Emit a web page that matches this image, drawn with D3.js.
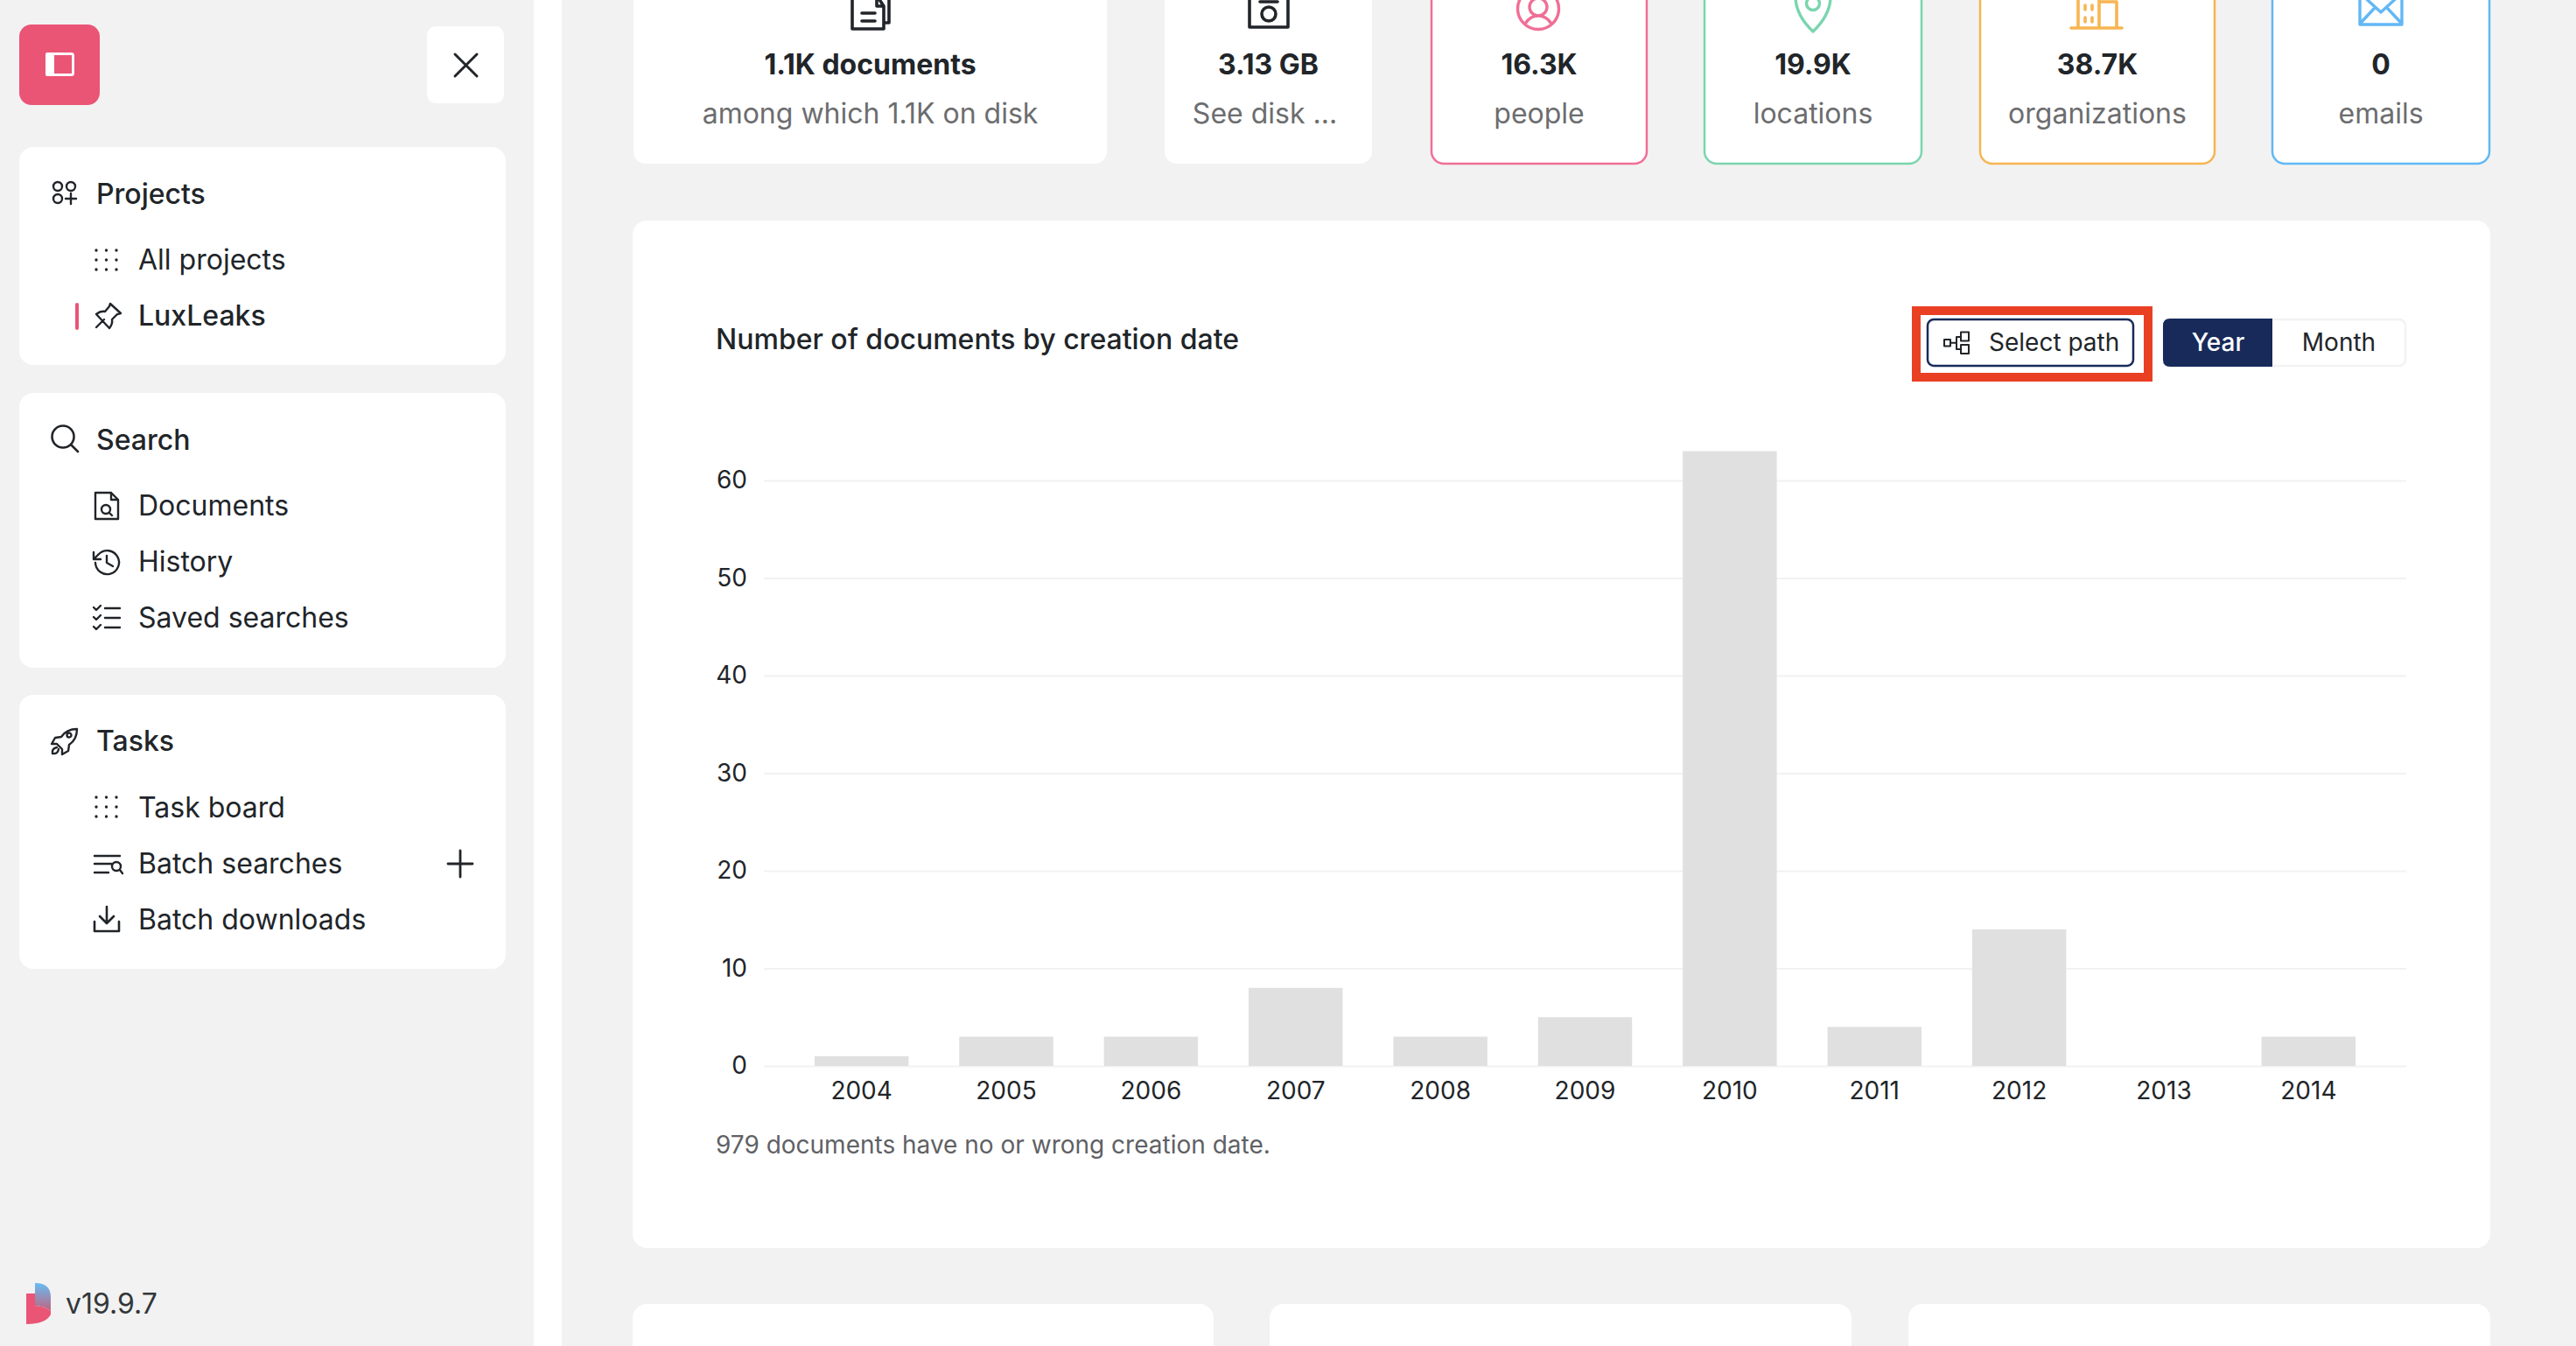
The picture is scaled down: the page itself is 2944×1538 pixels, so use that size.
<!DOCTYPE html>
<html lang="en">
<head>
<meta charset="UTF-8">
<title>Number of documents by creation date</title>
<script src="https://d3js.org/d3.v7.min.js"></script>
<style>
    html, body { margin: 0; padding: 0; background: #fff; overflow: hidden; }
    svg { display: block; font-family: Inter, "Noto Sans", sans-serif; }
    .icon { fill: none; stroke-linecap: round; stroke-linejoin: round; }
</style>
</head>
<body>
<svg id="page" width="2944" height="1538"></svg>
<script>
// chart values
const years = ["2004", "2005", "2006", "2007", "2008", "2009", "2010", "2011", "2012", "2013", "2014"];
const docCounts = [1, 3, 3, 8, 3, 5, 63, 4, 14, 0, 3];
const yTicks = [0, 10, 20, 30, 40, 50, 60];

// page texts
const chartTitle = "Number of documents by creation date";
const chartNote = "979 documents have no or wrong creation date.";
const statValues = ["1.1K documents", "3.13 GB", "16.3K", "19.9K", "38.7K", "0"];
const statLabels = ["among which 1.1K on disk", "See disk ...", "people", "locations", "organizations", "emails"];
const navHeadings = ["Projects", "Search", "Tasks"];
const navItems = ["All projects", "LuxLeaks", "Documents", "History", "Saved searches", "Task board", "Batch searches", "Batch downloads"];

const ink = "#212529", grey = "#6c6d6f", pageBg = "#f2f2f2";
const pink = "#ea5475", navy = "#172a5a", red = "#e94024";
const peopleColor = "#ef6f96", placeColor = "#7bd5ae", orgColor = "#f7b552", mailColor = "#62b8f5";

const svg = d3.select("#page");

function box(x, y, w, h, r, fill, stroke, sw) {
    return svg.append("rect").attr("x", x).attr("y", y).attr("width", w).attr("height", h)
        .attr("rx", r).attr("fill", fill).attr("stroke", stroke || "none").attr("stroke-width", sw || 0);
}

function label(txt, x, y, size, weight, color, anchor) {
    return svg.append("text").attr("x", x).attr("y", y).attr("font-size", size)
        .attr("font-weight", weight).attr("fill", color).attr("text-anchor", anchor || "start").text(txt);
}

// line icon, path drawn around the x,y origin
function icon(d, x, y, color, sw) {
    return svg.append("path").attr("class", "icon").attr("d", d)
        .attr("transform", `translate(${x},${y})`)
        .attr("stroke", color || ink).attr("stroke-width", sw || 2.6);
}

// backgrounds
box(0, 0, 2944, 1538, 0, "#fff");
box(0, 0, 610, 1538, 0, pageBg);
box(642, 0, 2302, 1538, 0, pageBg);

// ---- sidebar ----
box(22, 28, 92, 92, 14, pink);
box(53.5, 61.5, 30, 24, 2, "none", "#fff", 3);
box(52, 60, 10, 27, 2, "#fff");
box(488, 30, 88, 88, 10, "#fff");
icon("M1 1 L26 26 M26 1 L1 26", 519, 61, ink, 3);

box(22, 168, 556, 249, 16, "#fff");
box(22, 449, 556, 314, 16, "#fff");
box(22, 794, 556, 313, 16, "#fff");

const headingY = [233, 514, 858];
navHeadings.forEach((h, i) => label(h, 110, headingY[i], 32, 500, ink));
const itemY = [308, 372, 589, 653, 717, 934, 998, 1062];
navItems.forEach((t, i) => label(t, 158, itemY[i], 32, t === "LuxLeaks" ? 500 : 400, ink));
box(86, 346, 4, 31, 2, pink);

const dotsPath = d3.cross([0, 11.5, 23], [0, 11, 22]).map(([a, b]) => `M${a} ${b} h0.01`).join(" ");
icon("M6 6 m-5 0 a5 5 0 1 0 10 0 a5 5 0 1 0 -10 0 M21 6 m-5 0 a5 5 0 1 0 10 0 a5 5 0 1 0 -10 0 M6 20 m-5 0 a5 5 0 1 0 10 0 a5 5 0 1 0 -10 0 M21 14 V26 M15 20 H27", 60, 207, ink, 2.4);
icon(dotsPath, 110, 286, ink, 3.4);
icon("M3 30 L12 21 M19 3 L31 14 L27 15 L21 21 Q22 26 18 31 L3 15 Q8 11 13 12 L18 6 Z", 107, 344, ink, 2.4);
icon("M14 14 m-12.5 0 a12.5 12.5 0 1 0 25 0 a12.5 12.5 0 1 0 -25 0 M23 23 L31 31", 58, 485, ink, 2.6);
icon("M1 1 H19 L27 9 V31 H1 Z M19 1 V9 H27 M13 20 m-5 0 a5 5 0 1 0 10 0 a5 5 0 1 0 -10 0 M17 24 L20 27", 108, 562, ink, 2.4);
icon("M3 16 A13.5 13.5 0 1 0 7 6 L1 12 M1 4 V12 H9 M16 8 V16 L23 20", 106, 627, ink, 2.4);
icon("M1 3 L4 6 L9 1 M1 14 L4 17 L9 12 M1 25 L4 28 L9 23 M14 4 H31 M14 15 H31 M14 26 H31", 106, 691, ink, 2.4);
icon("M30 2 Q18 2 12 11 L5 12 L1 19 L7 19 L13 25 L13 31 L20 27 L21 20 Q30 14 30 2 Z M7 23 Q1 24 2 30 Q8 31 9 25 M21 9 m-2.5 0 a2.5 2.5 0 1 0 5 0 a2.5 2.5 0 1 0 -5 0", 58, 831, ink, 2.4);
icon(dotsPath, 110, 911, ink, 3.4);
icon("M1 1 H30 M1 10 H20 M1 20 H17 M26 13 m-5 0 a5 5 0 1 0 10 0 a5 5 0 1 0 -10 0 M30 17 L33 21", 107, 977, ink, 2.4);
icon("M14 0 V30 M0 15 H28", 512, 972, ink, 2.8);
icon("M15 1 V19 M7 12 L15 20 L23 12 M1 18 V29 H29 V18", 107, 1035, ink, 2.6);

// logo
const logoGrad = svg.append("defs").append("linearGradient").attr("id", "logoGrad")
    .attr("x1", 0).attr("y1", 0).attr("x2", 0).attr("y2", 1);
logoGrad.append("stop").attr("offset", "0.05").attr("stop-color", "#6bb8ee");
logoGrad.append("stop").attr("offset", "1").attr("stop-color", "#c0647f");
svg.append("path").attr("d", "M30 1478 H40 V1492 Q50 1492 58 1498 V1502 Q52 1513 30 1513 Z").attr("fill", pink);
svg.append("path").attr("d", "M40 1466 Q58 1466 58 1482 V1498 Q50 1492 40 1492 Z").attr("fill", "url(#logoGrad)");
label("v19.9.7", 75, 1501, 32, 400, "#33373b");

// ---- stat cards ----
const statX = [[723, 1266], [1330, 1569], [1635, 1883], [1947, 2197], [2262, 2532], [2596, 2846]];
const statBorder = [null, null, peopleColor, placeColor, orgColor, mailColor];
statX.forEach(([x0, x1], i) => {
    box(x0 + 1, -40, x1 - x0 - 2, 227, 14, "#fff", statBorder[i], statBorder[i] ? 2.5 : 0);
    const cx = (x0 + x1) / 2;
    label(statValues[i], cx, 85, 32, 700, ink, "middle");
    label(statLabels[i], cx - (i === 1 ? 4 : 0), 141, 32, 400, grey, "middle");
});

// cropped icons along the top edge
icon("M0 -5 H28 L36 7 V33 H0 Z M11 15 H26 M11 24 H26 M28 -5 V7 H36 M42 -5 V26 H37", 974, 0, ink, 3.6);
icon("M-22 -8 H22 V31 H-22 Z M-10 2 H10 M0 16 m-8 0 a8 8 0 1 0 16 0 a8 8 0 1 0 -16 0", 1450, 0, ink, 3.6);
icon("M0 10 m-23.5 0 a23.5 23.5 0 1 0 47 0 a23.5 23.5 0 1 0 -47 0 M0 8 m-10 0 a10 10 0 1 0 20 0 a10 10 0 1 0 -20 0 M-15 27 Q-9 18 0 18 Q9 18 15 27", 1758, 0, peopleColor, 3.4);
icon("M-20 -4 Q-20 17 0 36 Q20 17 20 -4 M0 4 m-7.5 0 a7.5 7.5 0 1 0 15 0 a7.5 7.5 0 1 0 -15 0", 2072, 0, placeColor, 3.4);
icon("M0 32 H58 M8 32 V-5 M32 32 V-5 M8 -2 H32 M32 2 H52 V32 M16 6 V11 M24 6 V11 M16 20 V25 M24 20 V25", 2367, 0, orgColor, 3.6);
icon("M-24 -8 H24 V28 H-24 Z M-24 -8 L0 14 L24 -8 M-23 26 L-8 10 M23 26 L8 10", 2721, 0, mailColor, 3.4);

// ---- chart card ----
box(723, 252, 2123, 1174, 16, "#fff");
label(chartTitle, 818, 399, 32, 500, ink);

// select path button with the red highlight around it
box(2190, 355, 265, 76, 0, "#fff", red, 10);
box(2203, 365, 235, 53, 7, "#fff", navy, 2.5);
icon("M2222 388 h7 v7.5 h-7 Z M2229 391.7 H2236 M2236 385 V399 M2236 385 H2241 M2236 399 H2241 M2241 379.5 h9 v10 h-9 Z M2241 394 h9 v10 h-9 Z", 0, 0, ink, 2);
label("Select path", 2273, 401, 28, 400, ink);

// year / month switch
box(2473, 365, 276, 53, 7, "#fff", pageBg, 2.5);
svg.append("path").attr("d", "M2597 364 H2480 Q2472 364 2472 372 V411 Q2472 419 2480 419 H2597 Z").attr("fill", navy);
label("Year", 2535, 401, 28, 500, "#fff", "middle");
label("Month", 2673, 401, 28, 400, ink, "middle");

const x = d3.scaleBand().domain(years).range([873, 2750]).padding(0.35);
const y = d3.scaleLinear().domain([0, 60]).range([1218, 549]);

const yAxis = svg.append("g").attr("transform", "translate(873,0)")
    .call(d3.axisLeft(y).tickValues(yTicks).tickSize(-(2750 - 873)).tickPadding(19));
yAxis.select(".domain").remove();
yAxis.selectAll("line").attr("stroke", pageBg).attr("stroke-width", 2);

svg.append("g").selectAll("rect")
    .data(years)
    .join("rect")
    .attr("x", d => x(d))
    .attr("width", x.bandwidth())
    .attr("y", (d, i) => y(docCounts[i]))
    .attr("height", (d, i) => y(0) - y(docCounts[i]))
    .attr("fill", "#e0e0e0");

const xAxis = svg.append("g").attr("transform", "translate(0,1218)")
    .call(d3.axisBottom(x).tickSize(0).tickPadding(18));
xAxis.select(".domain").remove();

svg.selectAll(".tick text").attr("font-family", "Inter").attr("font-size", 28).attr("fill", ink);

label(chartNote, 818, 1318, 28, 400, "#5f6165");

// cards below the chart, cut off by the window
box(723, 1490, 664, 90, 16, "#fff");
box(1451, 1490, 665, 90, 16, "#fff");
box(2181, 1490, 665, 90, 16, "#fff");
</script>
</body>
</html>
